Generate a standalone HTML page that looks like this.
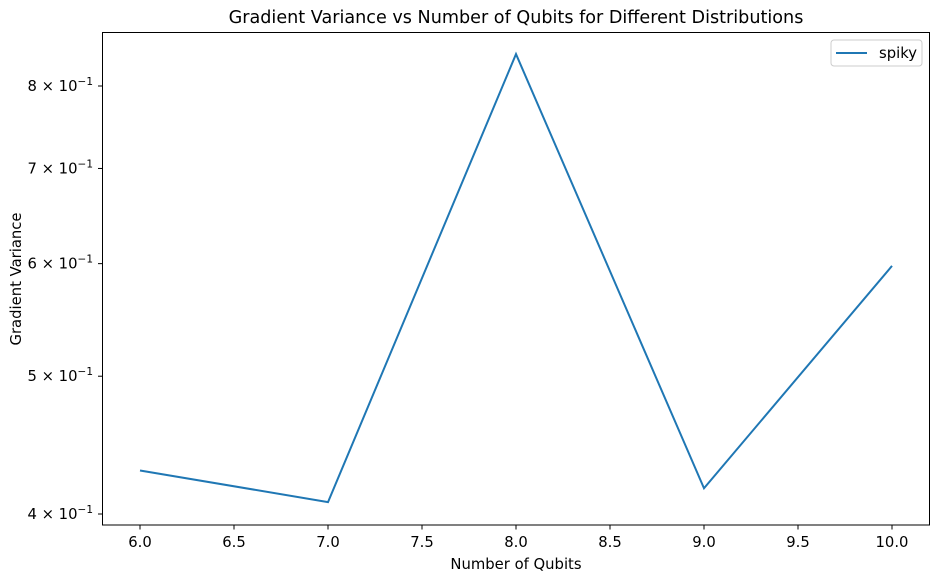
<!DOCTYPE html>
<html><head><meta charset="utf-8"><style>
body{margin:0;background:#fff;}
svg text{font-family:"DejaVu Sans","Liberation Sans",sans-serif;fill:#000;}
</style></head><body>
<svg width="940" height="582" id="c">
<text x="516" y="23" font-size="17.6" text-anchor="middle">Gradient Variance vs Number of Qubits for Different Distributions</text>
<text x="516" y="569" font-size="14.8" text-anchor="middle">Number of Qubits</text>
<text x="21" y="279" font-size="14.8" text-anchor="middle" transform="rotate(-90 21 279)">Gradient Variance</text>
<g id="ticks"></g>
<path id="line" fill="none" stroke="#1f77b4" stroke-width="2"/>
<rect x="102.5" y="32.5" width="827" height="492.5" fill="none" stroke="#000" stroke-width="1"/>
<g>
<rect x="831" y="40" width="91" height="26" rx="3" fill="#fff" stroke="#ccc"/>
<line x1="836" y1="53" x2="867" y2="53" stroke="#1f77b4" stroke-width="2"/>
<text x="879" y="58" font-size="14.8">spiky</text>
</g>
</svg>
<script>
const categories=[6,7,8,9,10];
const spikyValues=[0.4292,0.4078,0.8424,0.4170,0.5978];
const xTicks=[6.0,6.5,7.0,7.5,8.0,8.5,9.0,9.5,10.0];
const yTicks=[0.4,0.5,0.6,0.7,0.8];
const yTickMantissa=["4","5","6","7","8"];
const ns="http://www.w3.org/2000/svg";
function xs(v){return 140+(v-6)*(892-140)/4;}
function ys(v){return 514-Math.log(v/0.4)/Math.LN2*428;}
const g=document.getElementById('ticks');
function mk(t,a){const e=document.createElementNS(ns,t);for(const k in a)e.setAttribute(k,a[k]);g.appendChild(e);return e;}
xTicks.forEach(v=>{const x=xs(v);
const l=mk('line',{x1:x,x2:x,y1:525,y2:529.5,stroke:'#000'});


const t=mk('text',{x:x,y:547,'font-size':14.8,'text-anchor':'middle'});t.textContent=v.toFixed(1);

});
yTicks.forEach((v,i)=>{const y=ys(v);
const l=mk('line',{x1:98,x2:102.5,y1:y,y2:y,stroke:'#000'});


const t=mk('text',{x:93,y:y+5,'font-size':14.8,'text-anchor':'end'});
t.innerHTML=yTickMantissa[i]+' × 10<tspan dy="-6" font-size="10.5">−1</tspan>';

});
document.getElementById('line').setAttribute('d',categories.map((c,i)=>(i?'L':'M')+xs(c)+' '+ys(spikyValues[i])).join(' '));
</script>
</body></html>
